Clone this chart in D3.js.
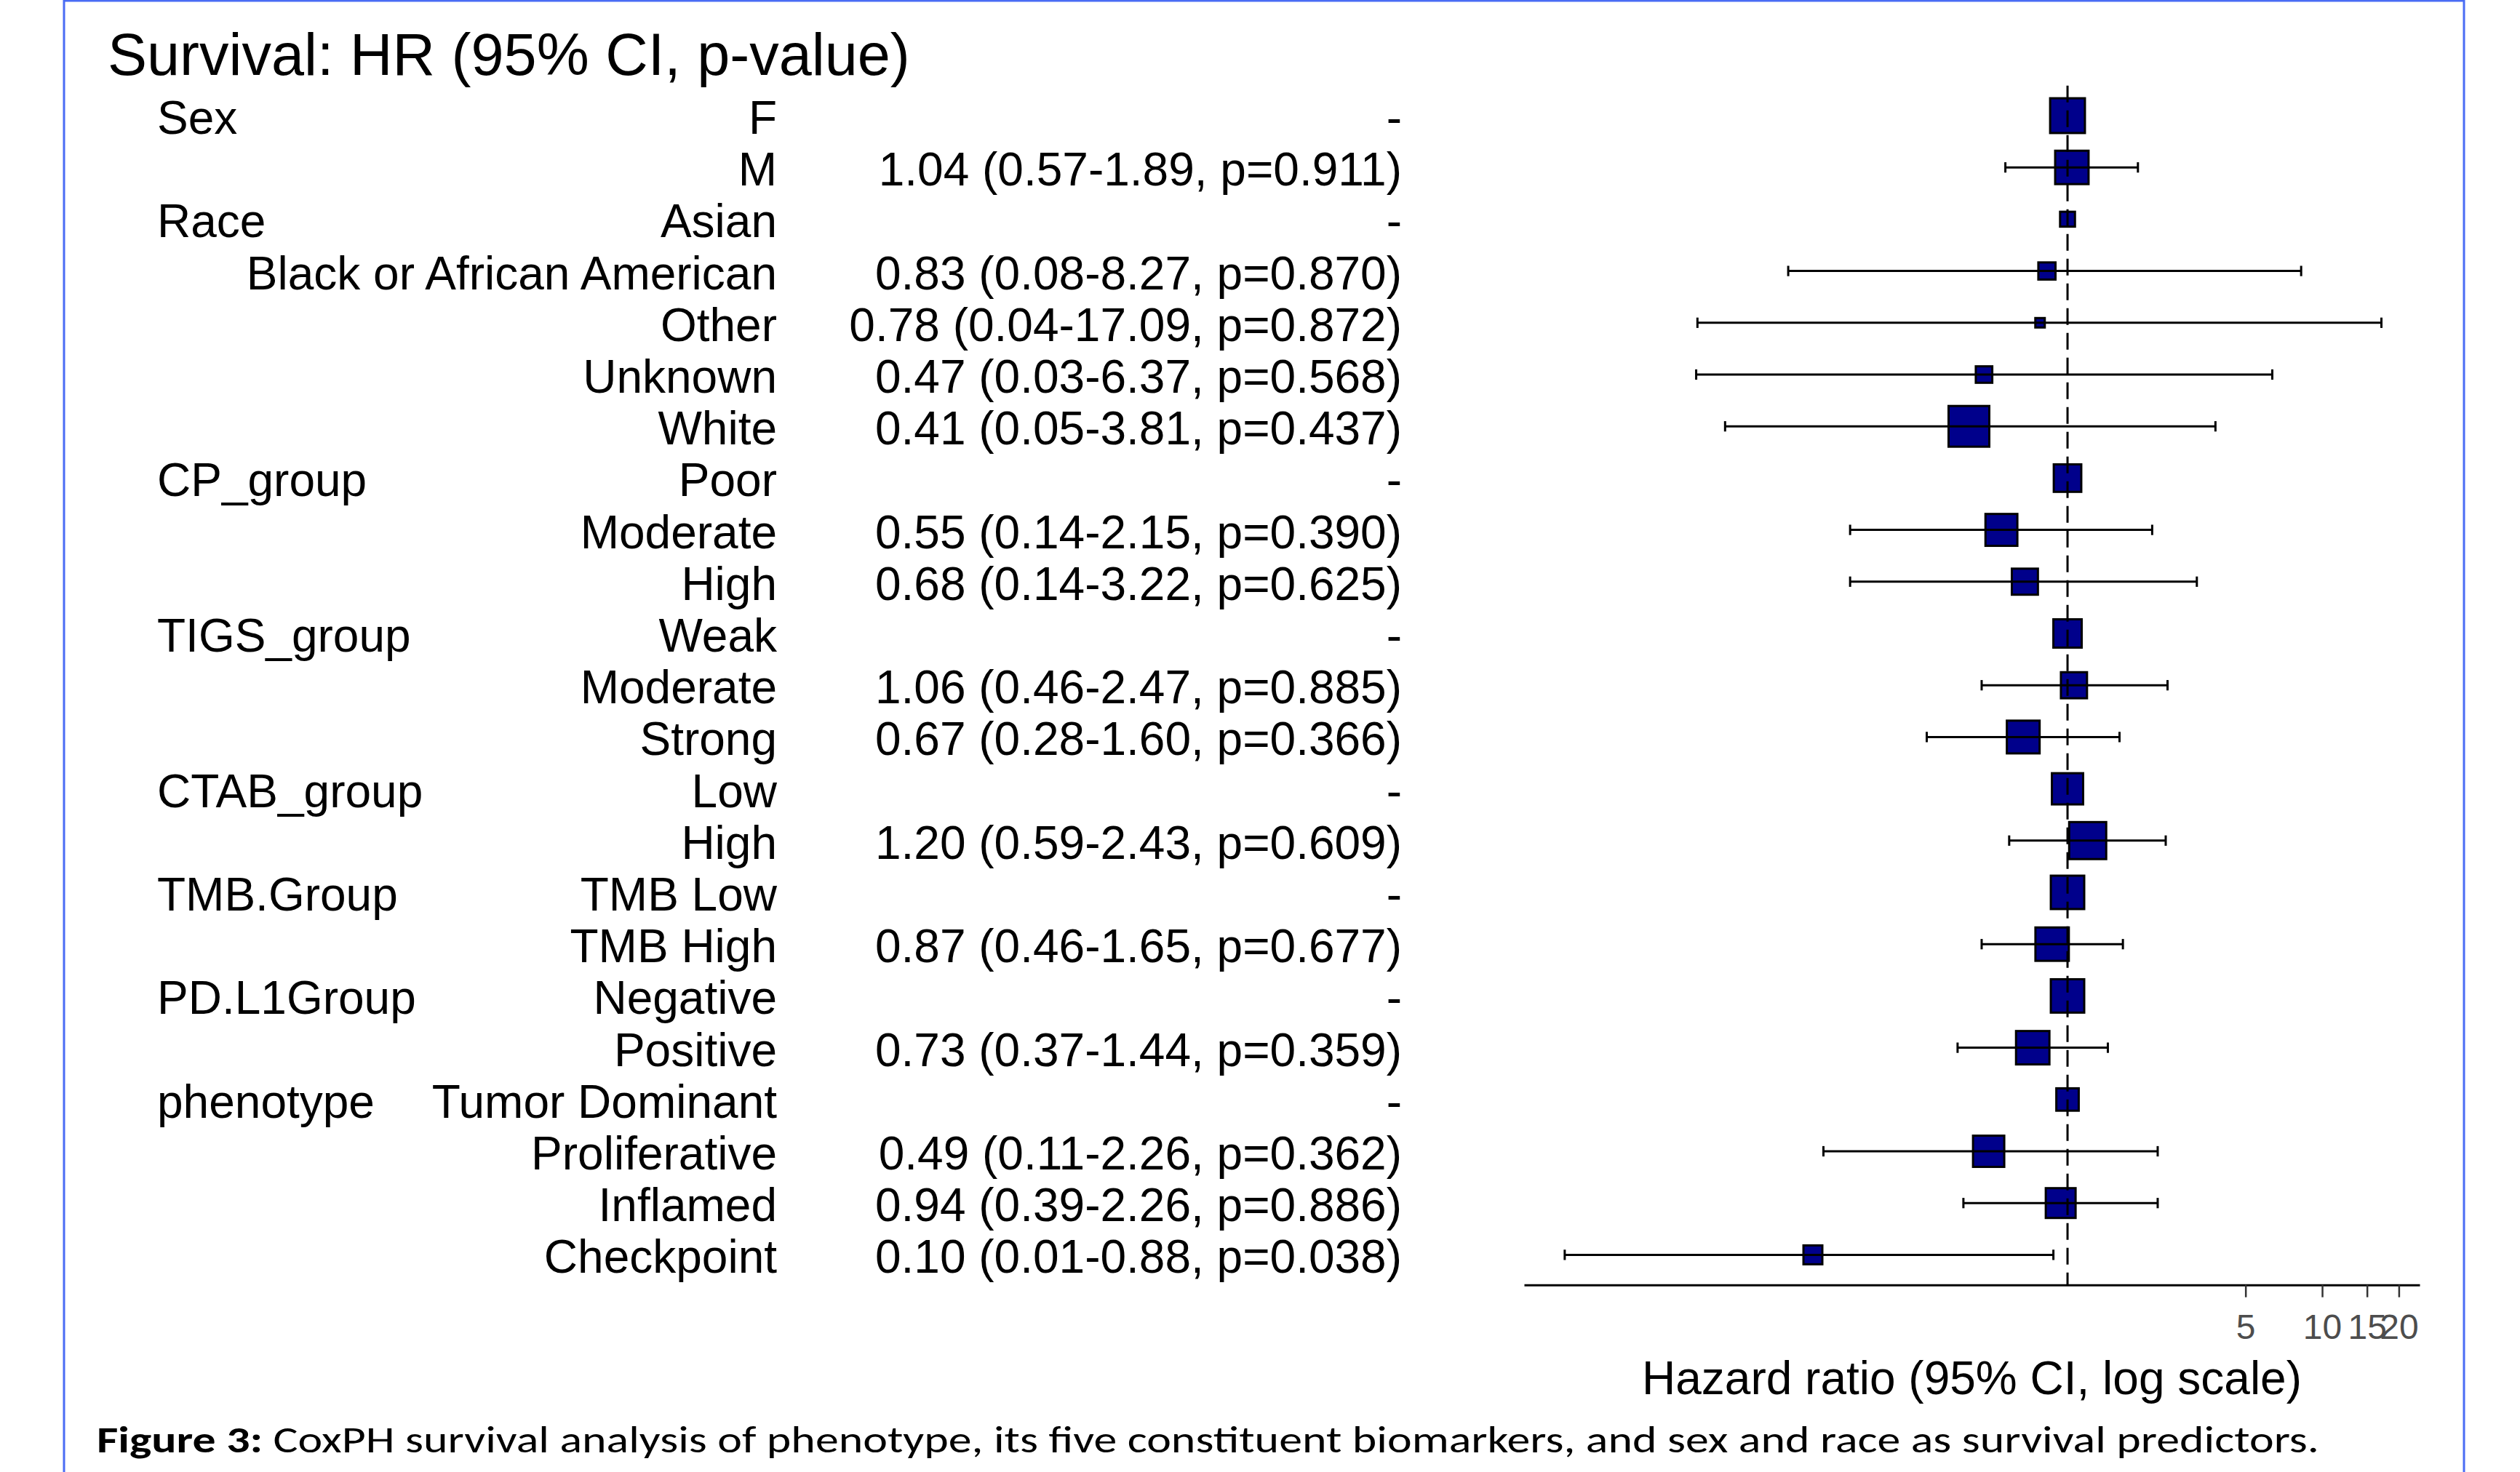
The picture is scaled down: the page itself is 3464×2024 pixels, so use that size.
<!DOCTYPE html>
<html>
<head>
<meta charset="utf-8">
<script src="https://cdn.jsdelivr.net/npm/d3@7"></script>
<style>
  body { margin: 0; background: #fff; }
  svg { display: block; }
</style>
</head>
<body>
<div id="chart"></div>
<script>
// hazard ratio table, one entry per row (reference levels have no estimate)
const variables = ["Sex", "Sex", "Race", "Race", "Race", "Race", "Race",
    "CP_group", "CP_group", "CP_group", "TIGS_group", "TIGS_group", "TIGS_group",
    "CTAB_group", "CTAB_group", "TMB.Group", "TMB.Group", "PD.L1Group", "PD.L1Group",
    "phenotype", "phenotype", "phenotype", "phenotype"];
const levels = ["F", "M", "Asian", "Black or African American", "Other", "Unknown", "White",
    "Poor", "Moderate", "High", "Weak", "Moderate", "Strong", "Low", "High",
    "TMB Low", "TMB High", "Negative", "Positive",
    "Tumor Dominant", "Proliferative", "Inflamed", "Checkpoint"];
const hr = [null, 1.04, null, 0.83, 0.78, 0.47, 0.41, null, 0.55, 0.68, null, 1.06, 0.67,
    null, 1.20, null, 0.87, null, 0.73, null, 0.49, 0.94, 0.10];
const ciLow = [null, 0.57, null, 0.08, 0.0352, 0.0348, 0.0452, null, 0.14, 0.14, null, 0.46, 0.28,
    null, 0.59, null, 0.46, null, 0.37, null, 0.11, 0.39, 0.0106];
const ciHigh = [null, 1.89, null, 8.27, 17.09, 6.37, 3.81, null, 2.15, 3.22, null, 2.47, 1.60,
    null, 2.43, null, 1.65, null, 1.44, null, 2.26, 2.26, 0.88];
const pValue = [null, 0.911, null, 0.870, 0.872, 0.568, 0.437, null, 0.390, 0.625, null, 0.885, 0.366,
    null, 0.609, null, 0.677, null, 0.359, null, 0.362, 0.886, 0.038];
// patients per level
const totals = [66, 59, 4, 7, 1, 6, 100, 34, 52, 29, 37, 29, 56, 49, 78, 59, 59, 59, 59, 18, 49, 43, 10];

const xTicks = [5, 10, 15, 20];
const xLimits = [0.00734, 24.14];

const title = "Survival: HR (95% CI, p-value)";
const xTitle = "Hazard ratio (95% CI, log scale)";
const captionBold = "Figure 3:";
const captionText = " CoxPH survival analysis of phenotype, its five constituent biomarkers, and sex and race as survival predictors.";

const W = 3464, H = 2024;
const font = "'Liberation Sans', Arial, Helvetica, sans-serif";

const svg = d3.select("#chart").append("svg")
    .attr("width", W)
    .attr("height", H);

svg.append("rect")
    .attr("width", W).attr("height", H)
    .attr("fill", "#fff");

// blue frame of the figure
svg.append("rect")
    .attr("x", 88).attr("y", 1)
    .attr("width", 3387 - 88).attr("height", H + 20)
    .attr("fill", "none")
    .attr("stroke", "#4a6cf4")
    .attr("stroke-width", 3);

const rows = d3.range(levels.length);

const y = d3.scalePoint().domain(rows).range([159, 1725.4]);
const step = y.step();
const panelTop = y(0) - 0.58 * step,
    panelBottom = y(rows.length - 1) + 0.58 * step;

const x = d3.scaleLog().domain(xLimits).range([2095, 3326]);

const nMin = d3.min(totals), nMax = d3.max(totals);
const side = d3.scaleLinear().domain([0, 1]).range([13, 56]);
function boxSize(n) {
    return side(Math.sqrt((n - nMin) / (nMax - nMin)));
}

// title
svg.append("text")
    .attr("x", 148).attr("y", 103)
    .style("font-family", font)
    .style("font-size", "81px")
    .text(title);

// table columns
const table = svg.append("g")
    .style("font-family", font)
    .style("font-size", "64px")
    .attr("fill", "#000");

table.selectAll("text.var")
    .data(rows.filter(i => i === 0 || variables[i] !== variables[i - 1]))
    .join("text")
    .attr("class", "var")
    .attr("x", 216)
    .attr("y", i => y(i) + 25)
    .text(i => variables[i]);

table.selectAll("text.lev")
    .data(rows)
    .join("text")
    .attr("class", "lev")
    .attr("x", 1068)
    .attr("y", i => y(i) + 25)
    .attr("text-anchor", "end")
    .text(i => levels[i]);

function estimateLabel(i) {
    if (hr[i] == null) return "-";
    return hr[i].toFixed(2) + " (" + ciLow[i].toFixed(2) + "-" + ciHigh[i].toFixed(2) +
        ", p=" + pValue[i].toFixed(3) + ")";
}

table.selectAll("text.est")
    .data(rows)
    .join("text")
    .attr("class", "est")
    .attr("x", 1927)
    .attr("y", i => y(i) + 25)
    .attr("text-anchor", "end")
    .text(estimateLabel);

// forest plot
const plot = svg.append("g");

plot.selectAll("rect.box")
    .data(rows)
    .join("rect")
    .attr("class", "box")
    .attr("x", i => x(hr[i] == null ? 1 : hr[i]) - boxSize(totals[i]) / 2)
    .attr("y", i => y(i) - boxSize(totals[i]) / 2)
    .attr("width", i => boxSize(totals[i]))
    .attr("height", i => boxSize(totals[i]))
    .attr("fill", "#00008b")
    .attr("stroke", "#000")
    .attr("stroke-width", 3);

const withCI = rows.filter(i => hr[i] != null);
const capH = 0.2 * step / 2;

const bars = plot.selectAll("g.ci")
    .data(withCI)
    .join("g")
    .attr("class", "ci")
    .attr("stroke", "#000")
    .attr("stroke-width", 3);

bars.append("line")
    .attr("x1", i => x(ciLow[i])).attr("x2", i => x(ciHigh[i]))
    .attr("y1", i => y(i)).attr("y2", i => y(i));
bars.append("line")
    .attr("x1", i => x(ciLow[i])).attr("x2", i => x(ciLow[i]))
    .attr("y1", i => y(i) - capH).attr("y2", i => y(i) + capH);
bars.append("line")
    .attr("x1", i => x(ciHigh[i])).attr("x2", i => x(ciHigh[i]))
    .attr("y1", i => y(i) - capH).attr("y2", i => y(i) + capH);

// reference line at HR = 1
plot.append("line")
    .attr("x1", x(1)).attr("x2", x(1))
    .attr("y1", panelTop).attr("y2", panelBottom)
    .attr("stroke", "#000")
    .attr("stroke-width", 3)
    .attr("stroke-dasharray", "23 11");

// x axis
const xAxis = d3.axisBottom(x)
    .tickValues(xTicks)
    .tickFormat(d3.format("d"))
    .tickSize(17)
    .tickSizeOuter(0)
    .tickPadding(23);

const axisG = svg.append("g")
    .attr("transform", "translate(0," + panelBottom + ")")
    .call(xAxis);

axisG.select(".domain")
    .attr("stroke", "#000")
    .attr("stroke-width", 3);
axisG.selectAll(".tick line")
    .attr("stroke", "#333")
    .attr("stroke-width", 2.5);
axisG.selectAll(".tick text")
    .attr("fill", "#4d4d4d")
    .style("font-family", font)
    .style("font-size", "48px");

svg.append("text")
    .attr("x", (x.range()[0] + x.range()[1]) / 2)
    .attr("y", 1917)
    .attr("text-anchor", "middle")
    .style("font-family", font)
    .style("font-size", "64px")
    .text(xTitle);

// figure caption
const caption = svg.append("text")
    .attr("x", 133)
    .attr("y", 1997)
    .attr("textLength", 3188 - 133)
    .attr("lengthAdjust", "spacingAndGlyphs")
    .style("font-family", "Carlito, Calibri, 'Open Sans', sans-serif")
    .style("font-size", "51px");
caption.append("tspan").style("font-weight", "bold").text(captionBold);
caption.append("tspan").text(captionText);
</script>
</body>
</html>
